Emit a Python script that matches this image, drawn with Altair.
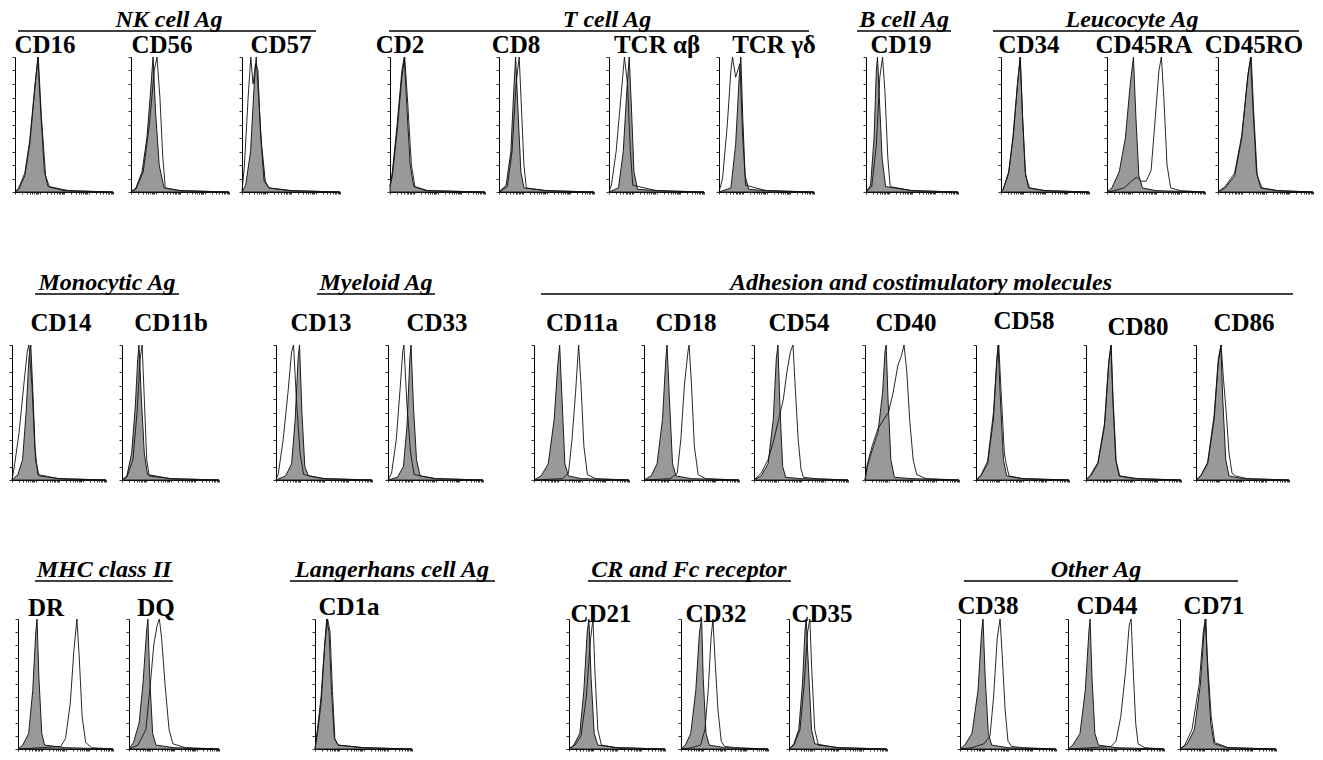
import math
import altair as alt
import pandas as pd

# ---------------- data (log-decade position : relative count) ----------------
ROW1_LABELS = ["CD16", "CD56", "CD57", "CD2", "CD8", "TCR αβ", "TCR γδ", "CD19", "CD34", "CD45RA", "CD45RO"]
ROW1_CTRL = [
    "0:0 .15:.02 .4:.12 .6:.35 .8:.75 .93:1 1.05:.6 1.2:.15 1.35:.04 2:.01 4:0",
    "0:0 .2:.03 .45:.15 .65:.4 .8:.75 .9:1 1:.6 1.15:.2 1.35:.03 2:.01 4:0",
    "0:0 .15:.05 .35:.3 .5:.8 .58:1 .68:.7 .8:.35 .95:.08 1.1:.03 2:.01 4:0",
    "0:.05 .1:.15 .3:.5 .5:.9 .6:1 .72:.6 .85:.2 1:.04 1.5:.01 4:0",
    "0:0 .3:.05 .5:.3 .62:.75 .7:1 .8:.6 .92:.15 1.05:.03 2:.01 4:0",
    "0:0 .4:.03 .6:.3 .75:.75 .85:1 .95:.6 1.05:.15 1.2:.02 2:.01 4:0",
    "0:0 .5:.03 .7:.35 .85:.85 .92:1 1:.55 1.1:.12 1.25:.02 2:.01 4:0",
    "0:0 .2:.05 .35:.4 .45:.9 .5:1 .58:.7 .7:.25 .85:.04 2:.01 4:0",
    "0:0 .1:.02 .35:.15 .55:.4 .75:.8 .87:1 .97:.6 1.1:.15 1.25:.03 2:.01 4:0",
    "0:0 .2:.03 .5:.15 .75:.4 .95:.8 1.08:1 1.18:.55 1.3:.12 1.45:.03 2:.01 4:0",
    "0:0 .3:.03 .7:.12 1:.4 1.25:.85 1.37:1 1.48:.6 1.62:.15 1.8:.03 2.5:.01 4:0",
]
ROW1_TEST = [
    "0:0 .15:.03 .4:.14 .6:.38 .82:.8 .95:1 1.08:.55 1.25:.12 1.4:.04 2.2:.01 4:0",
    "0:0 .2:.02 .5:.15 .75:.5 .95:.9 1.06:1 1.18:.7 1.3:.25 1.4:.03 2:.01 4:0",
    "0:0 .1:.2 .25:.7 .36:1 .45:.8 .55:.95 .65:.9 .75:.45 .9:.08 1.1:.03 2:.01 4:0",
    "0:.04 .1:.12 .3:.45 .5:.85 .62:1 .75:.65 .9:.2 1.05:.04 1.6:.01 4:0",
    "0:0 .35:.04 .55:.3 .72:.8 .85:1 .95:.6 1.05:.2 1.15:.03 2:.01 4:0",
    "0:0 .1:.05 .3:.3 .5:.7 .65:1 .78:.8 .9:.3 1:.05 2:.01 4:0",
    "0:0 .15:.1 .35:.5 .5:.9 .57:1 .7:.85 .88:.95 1:.4 1.12:.05 2:.01 4:0",
    "0:0 .25:.04 .45:.35 .6:.85 .72:1 .82:.75 .95:.25 1.05:.04 2:.01 4:0",
    "0:0 .1:.02 .35:.14 .55:.42 .76:.82 .88:1 .98:.55 1.12:.12 1.3:.03 2:.01 4:0",
    "0:0 .3:.01 .7:.03 1:.08 1.2:.11 1.4:.08 1.6:.08 1.8:.16 1.95:.5 2.12:.9 2.22:1 2.32:.7 2.45:.2 2.6:.03 3:.01 4:0",
    "0:0 .3:.04 .7:.14 1:.42 1.27:.88 1.4:1 1.5:.6 1.65:.12 1.85:.03 2.5:.01 4:0",
]

ROW2_LABELS = ["CD14", "CD11b", "CD13", "CD33", "CD11a", "CD18", "CD54", "CD40", "CD58", "CD80", "CD86"]
ROW2_CTRL = [
    "0:0 .25:.04 .45:.15 .6:.5 .72:.9 .8:1 .9:.6 1:.15 1.15:.03 2:.01 4:0",
    "0:0 .2:.03 .4:.2 .55:.55 .65:.9 .7:1 .8:.6 .92:.2 1.05:.04 2:.01 4:0",
    "0:0 .4:.03 .65:.12 .8:.45 .92:.9 .98:1 1.08:.5 1.2:.1 1.35:.03 2:.01 4:0",
    "0:0 .4:.02 .65:.1 .8:.4 .92:.9 .97:1 1.07:.55 1.2:.15 1.35:.03 2:.01 4:0",
    "0:0 .3:.03 .6:.12 .85:.45 1:.85 1.08:1 1.18:.6 1.3:.12 1.45:.03 2:.01 4:0",
    "0:0 .3:.03 .55:.12 .78:.45 .92:.9 .97:1 1.07:.6 1.2:.12 1.35:.03 2:.01 4:0",
    "0:0 .3:.03 .6:.12 .82:.45 .95:.9 1.02:1 1.1:.55 1.22:.1 1.35:.02 2:.01 4:0",
    "0:0 .1:.1 .3:.22 .55:.35 .75:.65 .85:.95 .9:1 .98:.6 1.1:.15 1.25:.02 2:.01 4:0",
    "0:0 .2:.03 .5:.12 .75:.45 .9:.9 .95:1 1.05:.6 1.18:.15 1.32:.03 2:.01 4:0",
    "0:0 .2:.03 .5:.12 .78:.4 .95:.85 1.05:1 1.13:.6 1.25:.15 1.4:.03 2:.01 4:0",
    "0:0 .2:.03 .5:.12 .78:.45 .95:.85 1.07:1 1.15:.6 1.28:.15 1.42:.03 2:.01 4:0",
]
ROW2_TEST = [
    "0:0 .1:.1 .3:.35 .5:.7 .65:.95 .72:1 .85:.7 .97:.25 1.1:.04 2:.01 4:0",
    "0:0 .2:.02 .45:.15 .62:.5 .75:.9 .83:1 .92:.6 1.02:.15 1.12:.03 2:.01 4:0",
    "0:0 .1:.05 .3:.3 .5:.65 .65:.95 .73:1 .85:.6 1:.2 1.15:.04 2:.01 4:0",
    "0:0 .15:.05 .35:.3 .52:.7 .62:.95 .67:1 .8:.55 .95:.2 1.1:.04 2:.01 4:0",
    "0:0 1.2:.01 1.45:.05 1.6:.3 1.75:.65 1.88:1 1.98:.7 2.1:.25 2.25:.04 2.6:.01 4:0",
    "0:0 1.1:.01 1.4:.05 1.55:.3 1.7:.7 1.85:.95 1.9:1 2:.7 2.12:.25 2.28:.04 2.6:.01 4:0",
    "0:0 .3:.05 .6:.15 .85:.3 1.05:.45 1.25:.6 1.4:.8 1.55:.95 1.66:1 1.75:.7 1.88:.3 2:.08 2.1:.02 2.6:.01 4:0",
    "0:0 .1:.12 .3:.25 .55:.38 .8:.45 1:.5 1.2:.65 1.4:.85 1.55:.92 1.66:1 1.78:.8 1.9:.45 2.05:.15 2.2:.04 2.6:.01 4:0",
    "0:0 .2:.03 .5:.14 .75:.5 .9:.9 .98:1 1.08:.65 1.22:.2 1.3:.12 1.42:.03 2:.01 4:0",
    "0:0 .2:.04 .5:.13 .78:.42 .96:.88 1.06:1 1.14:.6 1.27:.14 1.42:.03 2.2:.01 4:0",
    "0:0 .2:.03 .5:.13 .78:.48 .96:.9 1.08:1 1.18:.75 1.3:.5 1.42:.2 1.55:.05 1.7:.03 2.2:.01 4:0",
]

ROW3_LABELS = ["DR", "DQ", "CD1a", "CD21", "CD32", "CD35", "CD38", "CD44", "CD71"]
ROW3_CTRL = [
    "0:0 .2:.03 .45:.12 .62:.45 .75:.9 .8:1 .88:.55 1:.12 1.12:.03 2:.01 4:0",
    "0:0 .2:.05 .45:.2 .62:.5 .78:.9 .84:1 .92:.55 1.05:.12 1.2:.03 2:.01 4:0",
    "0:0 .1:.15 .25:.4 .38:.75 .48:1 .58:.9 .68:.45 .8:.08 .95:.03 2:.01 4:0",
    "0:0 .2:.03 .45:.12 .62:.45 .76:.9 .83:1 .92:.55 1.05:.12 1.2:.03 2:.01 4:0",
    "0:0 .2:.03 .45:.12 .68:.45 .85:.9 .95:1 1.02:.55 1.15:.12 1.3:.03 2:.01 4:0",
    "0:0 .2:.04 .4:.15 .55:.5 .65:.9 .7:1 .8:.6 .92:.15 1.05:.04 2:.01 4:0",
    "0:0 .2:.03 .5:.12 .75:.45 .9:.9 .96:1 1.05:.55 1.18:.12 1.32:.03 2:.01 4:0",
    "0:0 .2:.03 .5:.12 .72:.45 .87:.9 .92:1 1:.55 1.12:.12 1.27:.03 2:.01 4:0",
    "0:0 .3:.04 .6:.15 .85:.5 1:.9 1.08:1 1.15:.6 1.28:.2 1.42:.04 2:.01 4:0",
]
ROW3_TEST = [
    "0:0 1:.01 1.8:.02 2:.08 2.2:.35 2.35:.75 2.48:1 2.58:.7 2.7:.25 2.85:.05 3.1:.01 4:0",
    "0:0 .4:.03 .75:.15 .95:.5 1.1:.8 1.25:.95 1.35:1 1.45:.85 1.6:.5 1.78:.15 1.95:.04 2.5:.01 4:0",
    "0:0 .1:.12 .25:.35 .4:.8 .52:1 .62:.9 .72:.45 .82:.08 .95:.03 2:.01 4:0",
    "0:0 .25:.03 .5:.1 .72:.4 .9:.85 1:1 1.08:.6 1.2:.15 1.35:.03 2:.01 4:0",
    "0:0 .5:.01 .9:.03 1.1:.15 1.25:.45 1.38:.85 1.47:1 1.56:.7 1.7:.3 1.85:.06 2:.02 2.5:.01 4:0",
    "0:0 .2:.03 .45:.15 .62:.5 .76:.9 .85:1 .93:.6 1.05:.15 1.2:.03 2:.01 4:0",
    "0:0 .5:.01 1:.04 1.25:.1 1.4:.4 1.55:.85 1.67:1 1.75:.75 1.88:.3 2:.06 2.15:.02 2.6:.01 4:0",
    "0:0 1:.01 1.8:.02 2:.06 2.2:.25 2.4:.6 2.55:.95 2.63:1 2.72:.6 2.82:.2 2.92:.04 3.2:.01 4:0",
    "0:0 .2:.03 .5:.15 .8:.5 .97:.9 1.05:1 1.14:.7 1.3:.25 1.45:.05 2:.01 4:0",
]

# group headings
HEAD1_TEXT = ["NK cell Ag", "T cell Ag", "B cell Ag", "Leucocyte Ag"]
HEAD2_TEXT = ["Monocytic Ag", "Myeloid Ag", "Adhesion and costimulatory molecules"]
HEAD3_TEXT = ["MHC class II", "Langerhans cell Ag", "CR and Fc receptor", "Other Ag"]

# ---------------- layout (page pixels) ----------------
HEAD1_CX = [168, 606, 903, 1131]
HEAD1_X1 = [17, 388, 856, 992]
HEAD1_X2 = [315, 808, 950, 1298]
HEAD2_CX = [106, 375, 920]
HEAD2_X1 = [34, 316, 540]
HEAD2_X2 = [178, 434, 1292]
HEAD3_CX = [103, 391, 688, 1095]
HEAD3_X1 = [34, 289, 587, 963]
HEAD3_X2 = [172, 494, 790, 1237]

ROW1_AXIS = [14, 130, 241, 389, 498, 608, 718, 865, 1000, 1106, 1217]
ROW1_W = [98, 98, 98, 95, 95, 95, 95, 92, 88, 98, 95]
ROW1_LX = [44, 161, 280, 399, 515, 656, 773, 900, 1028, 1143, 1253]
ROW1_LDY = [0] * 11

ROW2_AXIS = [11, 121, 275, 387, 533, 643, 753, 864, 975, 1085, 1195]
ROW2_W = [94, 97, 96, 95, 95, 95, 94, 94, 93, 95, 93]
ROW2_LX = [60, 170, 320, 436, 581, 685, 798, 905, 1023, 1137, 1243]
ROW2_LDY = [0, 0, 0, 0, 0, 0, 0, 0, -2, 4, 0]

ROW3_AXIS = [17, 128, 314, 568, 680, 788, 959, 1067, 1179]
ROW3_W = [95, 90, 97, 96, 87, 98, 96, 96, 96]
ROW3_LX = [45, 155, 348, 600, 715, 821, 987, 1106, 1213]
ROW3_LDY = [0, 0, -1, 6, 6, 6, -2, -2, -2]

MARGIN = 8
BOTTOM_PAD = 5
ROWS = [
    dict(plot_top=57, plot_bot=192, head_base=27, offset=3, tdy=26),
    dict(plot_top=345, plot_bot=480, head_base=290, offset=12, tdy=25),
    dict(plot_top=619, plot_bot=749, head_base=577, offset=5, tdy=29),
]

XTICKS = [d + math.log10(k) for d in range(4) for k in range(1, 10)] + [4.0]
YTICKS = [i / 10 for i in range(11)]
SERIF = "Liberation Serif"


def parse(s):
    pts = []
    for p in s.split():
        a, b = p.split(":")
        pts.append({"x": float(a), "y": float(b)})
    return pd.DataFrame(pts)


def blank(w):
    return (
        alt.Chart(pd.DataFrame({"v": [w / 2], "u": [2]}))
        .mark_point(opacity=0, size=1)
        .encode(
            x=alt.X("v:Q", scale=alt.Scale(domain=[0, w], nice=False, zero=False), axis=None),
            y=alt.Y("u:Q", scale=alt.Scale(domain=[0, 4], nice=False, zero=False), axis=None),
        )
        .properties(width=w, height=4)
    )


def header_block(w, h, top_rel, bot_rel, texts, cxs, x1s, x2s, base_rel):
    # first (empty) cell of a row; carries the group headings drawn above the row,
    # and an invisible rule that fixes the row's vertical extent
    df = pd.DataFrame({
        "label": texts,
        "cx": [c - MARGIN for c in cxs],
        "x1": [a - MARGIN for a in x1s],
        "x2": [b - MARGIN for b in x2s],
        "ty": [base_rel] * len(texts),
        "ly": [base_rel + 4] * len(texts),
    })
    xs = alt.Scale(domain=[0, w], nice=False, zero=False)
    ys = alt.Scale(domain=[0, h], reverse=True, nice=False, zero=False)
    extent = (
        alt.Chart(pd.DataFrame({"cx": [w / 2], "ty": [top_rel], "ly": [bot_rel]}))
        .mark_rule(opacity=0, strokeOpacity=0)
        .encode(x=alt.X("cx:Q", scale=xs, axis=None), y=alt.Y("ty:Q", scale=ys, axis=None), y2="ly:Q")
    )
    rule = alt.Chart(df).mark_rule(color="black", strokeWidth=1.6).encode(
        x=alt.X("x1:Q", scale=xs, axis=None), x2="x2:Q", y=alt.Y("ly:Q", scale=ys, axis=None)
    )
    txt = alt.Chart(df).mark_text(
        font=SERIF, fontSize=24, fontWeight="bold", fontStyle="italic",
        baseline="alphabetic", align="center", color="black",
    ).encode(x=alt.X("cx:Q", scale=xs, axis=None), y=alt.Y("ty:Q", scale=ys, axis=None), text="label:N")
    return alt.layer(extent, rule, txt).properties(width=w, height=h)


def panel(label, ctrl, test, w, h, dx, dy, offset):
    xenc = alt.X(
        "x:Q",
        scale=alt.Scale(domain=[0, 4], nice=False, zero=False),
        axis=alt.Axis(values=XTICKS, labels=False, title=None, tickSize=2, grid=False,
                      domainColor="black", tickColor="black", domainWidth=1.2, tickWidth=0.8),
    )
    yenc = alt.Y(
        "y:Q",
        scale=alt.Scale(domain=[0, 1], nice=False, zero=False),
        axis=alt.Axis(values=YTICKS, labels=False, title=None, tickSize=3, grid=False,
                      domainColor="black", tickColor="black", domainWidth=1, tickWidth=0.8),
    )
    area = (
        alt.Chart(parse(ctrl))
        .mark_area(fill="#999999", stroke="#1c1c1c", strokeWidth=1, interpolate="linear")
        .encode(x=xenc, y=yenc)
    )
    line = (
        alt.Chart(parse(test))
        .mark_line(color="#111111", strokeWidth=0.9, interpolate="linear")
        .encode(x=xenc, y=yenc)
    )
    return alt.layer(area, line).properties(
        width=w,
        height=h,
        title=alt.TitleParams(
            label, anchor="middle", frame="group", dx=dx, dy=dy, offset=offset,
            baseline="alphabetic", font=SERIF, fontSize=25, fontWeight="bold", color="black",
        ),
    )


def build_row(r, top_rel, labels, ctrls, tests, axes, widths, lxs, ldys, htexts, hcx, hx1, hx2):
    plot_h = r["plot_bot"] - r["plot_top"]
    items = []
    prev_end = 0
    for i, (lab, c, t, ax, w, lx, ldy) in enumerate(zip(labels, ctrls, tests, axes, widths, lxs, ldys)):
        ax_c = ax - MARGIN
        gap = ax_c - prev_end
        if i == 0:
            items.append(header_block(gap, plot_h, top_rel, plot_h + BOTTOM_PAD,
                                      htexts, hcx, hx1, hx2, r["head_base"] - r["plot_top"]))
        elif gap > 0:
            items.append(blank(gap))
        dx = lx - (ax + w / 2)
        items.append(panel(lab, c, t, w, plot_h, dx, r["tdy"] + ldy, r["offset"]))
        prev_end = ax_c + w
    return alt.hconcat(*items, spacing=0, bounds="flush").resolve_scale(x="independent", y="independent")


r1, r2, r3 = ROWS
b1 = r1["plot_bot"] - r1["plot_top"] + BOTTOM_PAD
b2 = r2["plot_bot"] - r2["plot_top"] + BOTTOM_PAD
row1 = build_row(r1, -(r1["plot_top"] - MARGIN), ROW1_LABELS, ROW1_CTRL, ROW1_TEST, ROW1_AXIS, ROW1_W,
                 ROW1_LX, ROW1_LDY, HEAD1_TEXT, HEAD1_CX, HEAD1_X1, HEAD1_X2)
row2 = build_row(r2, -(r2["plot_top"] - r1["plot_top"] - b1), ROW2_LABELS, ROW2_CTRL, ROW2_TEST, ROW2_AXIS,
                 ROW2_W, ROW2_LX, ROW2_LDY, HEAD2_TEXT, HEAD2_CX, HEAD2_X1, HEAD2_X2)
row3 = build_row(r3, -(r3["plot_top"] - r2["plot_top"] - b2), ROW3_LABELS, ROW3_CTRL, ROW3_TEST, ROW3_AXIS,
                 ROW3_W, ROW3_LX, ROW3_LDY, HEAD3_TEXT, HEAD3_CX, HEAD3_X1, HEAD3_X2)

chart = (
    alt.vconcat(row1, row2, row3, spacing=0)
    .resolve_scale(x="independent", y="independent")
    .properties(padding=0, background="white")
    .configure_view(stroke=None)
)

chart.save("out.html", embed_options={"renderer": "svg", "actions": False})
